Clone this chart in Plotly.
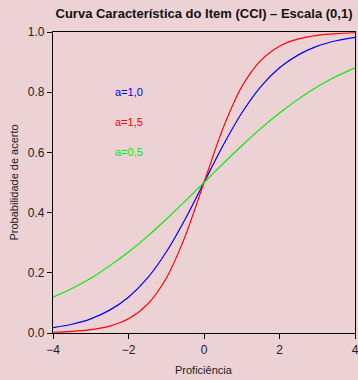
import plotly.graph_objects as go

theta = [-4, -3.5, -3, -2.5, -2, -1.5, -1, -0.5, 0, 0.5, 1, 1.5, 2, 2.5, 3, 3.5, 4]
p_a10 = [0.018, 0.029, 0.047, 0.076, 0.119, 0.182, 0.269, 0.378, 0.5,
         0.622, 0.731, 0.818, 0.881, 0.924, 0.953, 0.971, 0.982]
p_a15 = [0.0025, 0.0052, 0.011, 0.023, 0.047, 0.095, 0.182, 0.321, 0.5,
         0.679, 0.818, 0.905, 0.953, 0.977, 0.989, 0.9948, 0.9975]
p_a05 = [0.119, 0.148, 0.182, 0.223, 0.269, 0.321, 0.378, 0.438, 0.5,
         0.562, 0.622, 0.679, 0.731, 0.777, 0.818, 0.852, 0.881]
labels = ["a=1,0", "a=1,5", "a=0,5"]
label_y = [0.8, 0.7, 0.6]
colors = ["#0000FF", "#FF0000", "#00EE00"]
x_title = "Proficiência"
y_title = "Probabilidade de acerto"

fig = go.Figure()
for ys, c in zip([p_a10, p_a15, p_a05], colors):
    fig.add_trace(go.Scatter(x=theta, y=ys, mode="lines",
                             line=dict(color=c, width=1.2, shape="spline", smoothing=0.8),
                             showlegend=False, hoverinfo="skip"))

for t, yv, c in zip(labels, label_y, colors):
    fig.add_annotation(x=-2, y=yv, text=t, showarrow=False,
                       font=dict(color=c, size=11, family="Liberation Sans, Arial"))

fig.add_annotation(text=x_title, xref="paper", yref="paper", x=0.5, y=-37 / 301,
                   xanchor="center", yanchor="middle", showarrow=False,
                   font=dict(size=11, color="#222222"))
fig.add_annotation(text=y_title, xref="paper", yref="paper", x=-40 / 302, y=0.5,
                   xanchor="center", yanchor="middle", textangle=-90, showarrow=False,
                   font=dict(size=11, color="#222222"))

bg = "#ECD1D5"
fig.update_layout(
    width=358, height=380,
    margin=dict(l=53, r=3, t=32, b=47),
    paper_bgcolor=bg, plot_bgcolor=bg,
    font=dict(family="Liberation Sans, Arial", size=11, color="#222222"),
    title=dict(text="<b>Curva Característica do Item (CCI) – Escala (0,1)</b>",
               x=(53 + 355) / 2 / 358, xanchor="center", y=1 - 13 / 380, yanchor="middle",
               font=dict(size=13, color="#111111")),
)
fig.update_xaxes(range=[-4, 4], tickvals=[-4, -2, 0, 2, 4],
                 ticktext=["\u22124", "\u22122", "0", "2", "4"], automargin=False,
                 tickfont=dict(size=12), ticklabeloverflow="allow",
                 showgrid=False, zeroline=False, showline=True, linecolor="black",
                 linewidth=1.2, mirror=True, ticks="outside", ticklen=5, tickcolor="black")
fig.update_yaxes(range=[0, 1], tickvals=[0, 0.2, 0.4, 0.6, 0.8, 1.0],
                 ticktext=["0.0", "0.2", "0.4", "0.6", "0.8", "1.0"], automargin=False,
                 tickfont=dict(size=12),
                 showgrid=False, zeroline=False, showline=True, linecolor="black",
                 linewidth=1.2, mirror=True, ticks="outside", ticklen=5, tickcolor="black")

fig.write_html("out.html", config={"displayModeBar": False},
               post_script="document.body.style.margin='0';document.body.style.overflow='hidden';")
